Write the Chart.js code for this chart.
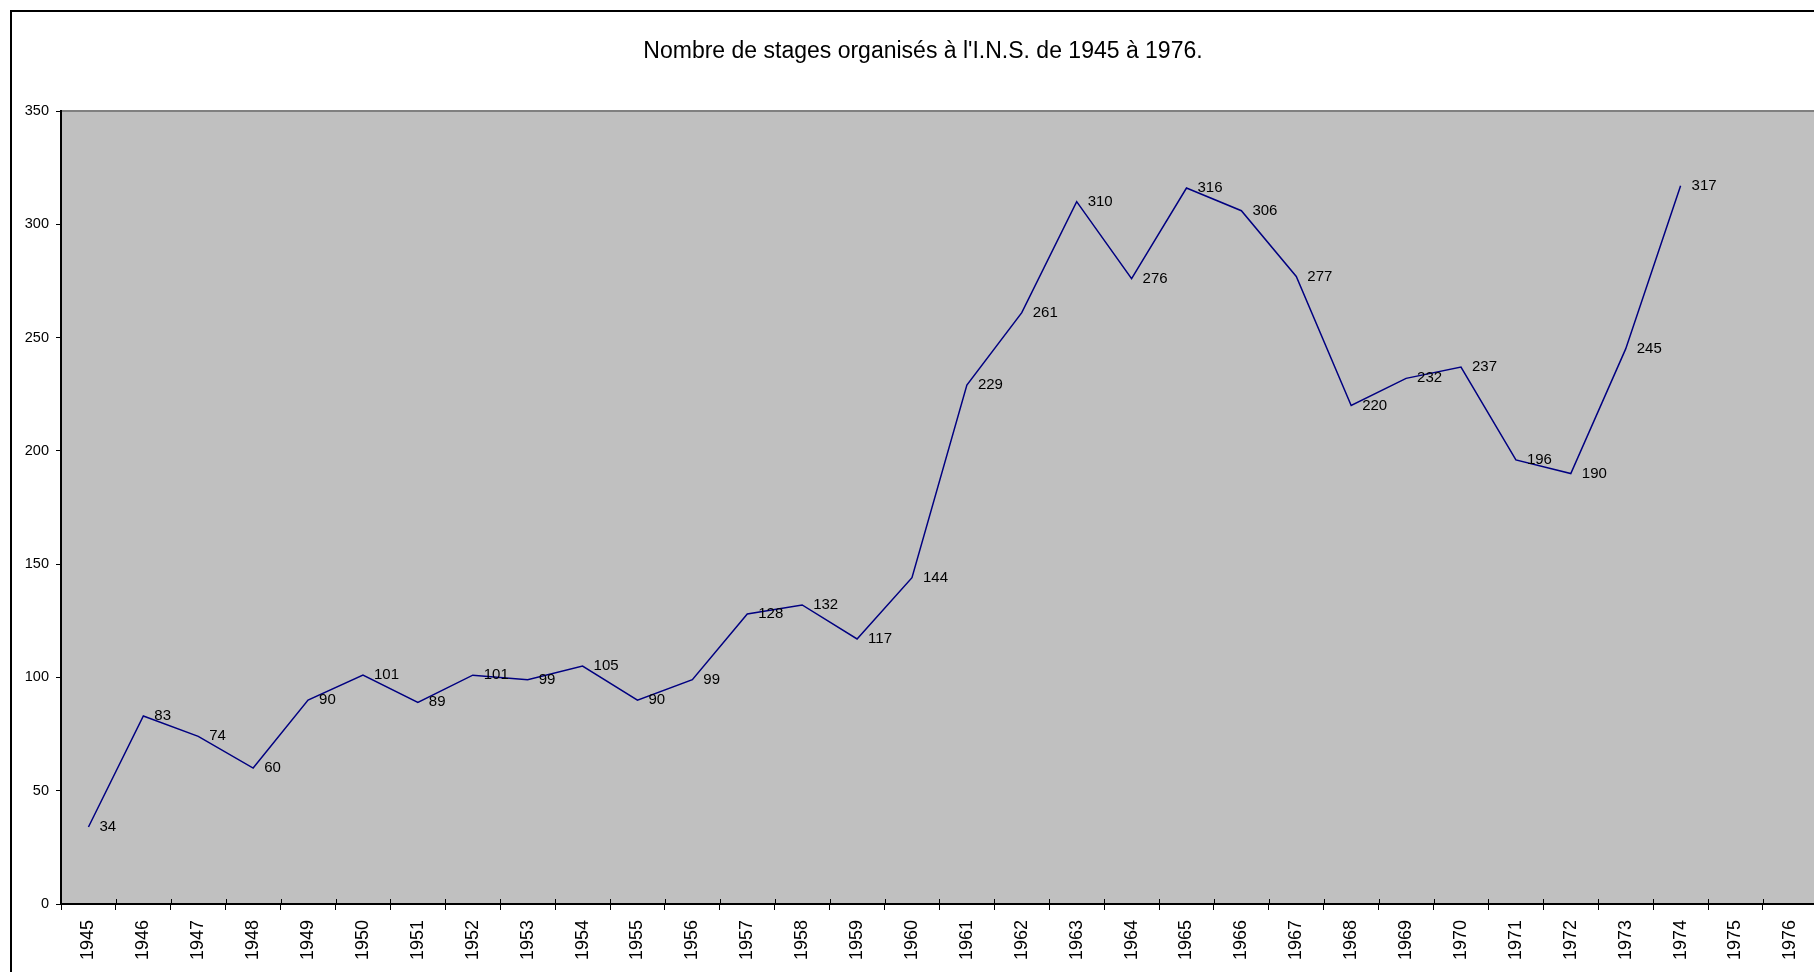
<!DOCTYPE html>
<html>
<head>
<meta charset="utf-8">
<script src="https://cdn.jsdelivr.net/npm/chart.js@4.4.1/dist/chart.umd.min.js"></script>
<style>
  html, body { margin: 0; padding: 0; overflow: hidden; background: #fff; width: 1814px; height: 972px; }
  #frame { position: absolute; left: 10px; top: 10px; width: 1900px; height: 1000px; border: 2px solid #000; box-sizing: border-box; }
  #chart { position: absolute; left: 0; top: 0; }
  #titre { position: absolute; left: 0; top: 36px; width: 1846px; text-align: center;
           font: 23px/28px 'Liberation Sans', Arial, sans-serif; color: #000; white-space: nowrap; }
</style>
</head>
<body>
<div id="frame"></div>
<canvas id="chart" width="1822" height="972"></canvas>
<div id="titre"></div>
<script>
// ---- données ----
const titre = "Nombre de stages organisés à l'I.N.S. de 1945 à 1976.";
const annees = ["1945","1946","1947","1948","1949","1950","1951","1952","1953","1954",
  "1955","1956","1957","1958","1959","1960","1961","1962","1963","1964",
  "1965","1966","1967","1968","1969","1970","1971","1972","1973","1974","1975","1976"];
const stages = [34, 83, 74, 60, 90, 101, 89, 101, 99, 105,
  90, 99, 128, 132, 117, 144, 229, 261, 310, 276,
  316, 306, 277, 220, 232, 237, 196, 190, 245, 317, null, null];
const yMin = 0, yMax = 350, yPas = 50;

document.getElementById("titre").textContent = titre;

// fond gris de la zone de traçage + bordure du haut
const fondPlugin = {
  id: "fond",
  beforeDraw(chart) {
    const { ctx, chartArea: a } = chart;
    ctx.save();
    ctx.fillStyle = "#c0c0c0";
    ctx.fillRect(a.left, a.top, a.right - a.left, a.bottom - a.top);
    ctx.strokeStyle = "#808080";
    ctx.lineWidth = 2;
    ctx.beginPath();
    ctx.moveTo(a.left, a.top);
    ctx.lineTo(a.right, a.top);
    ctx.lineTo(a.right, a.bottom);
    ctx.stroke();
    ctx.restore();
  },
  afterDraw(chart) {
    // petites graduations vers l'intérieur sur l'axe x (elles traversent l'axe)
    const { ctx, chartArea: a, scales } = chart;
    const x = scales.x;
    const w = x.getPixelForValue(1) - x.getPixelForValue(0);
    ctx.save();
    ctx.strokeStyle = "#000";
    ctx.lineWidth = 1;
    ctx.beginPath();
    for (let i = 0; i <= annees.length; i++) {
      const px = Math.round(x.getPixelForValue(0) - w / 2 + i * w) + 0.5;
      ctx.moveTo(px, a.bottom - 5);
      ctx.lineTo(px, a.bottom);
    }
    ctx.stroke();
    ctx.restore();
  }
};

// étiquettes de données à droite des points
const etiquettesPlugin = {
  id: "etiquettes",
  afterDatasetsDraw(chart) {
    const { ctx } = chart;
    const meta = chart.getDatasetMeta(0);
    ctx.save();
    ctx.font = "15px 'Liberation Sans', Arial, sans-serif";
    ctx.fillStyle = "#000";
    ctx.textAlign = "left";
    ctx.textBaseline = "middle";
    meta.data.forEach((pt, i) => {
      const v = stages[i];
      if (v === null || v === undefined) return;
      ctx.fillText(String(v), pt.x + 11, pt.y);
    });
    ctx.restore();
  }
};

const chart = new Chart(document.getElementById("chart").getContext("2d"), {
  type: "line",
  data: {
    labels: annees,
    datasets: [{
      data: stages,
      borderColor: "#000080",
      borderWidth: 1.5,
      pointRadius: 0,
      tension: 0,
      fill: false,
      spanGaps: false
    }]
  },
  plugins: [fondPlugin, etiquettesPlugin],
  options: {
    responsive: false,
    animation: false,
    devicePixelRatio: 1,
    layout: { padding: { left: 0, right: 0, top: 111, bottom: 0 } },
    plugins: {
      legend: { display: false },
      tooltip: { enabled: false },
      title: { display: false }
    },
    scales: {
      x: {
        type: "category",
        offset: true,
        grid: { offset: true, drawOnChartArea: false, color: "#000", tickLength: 6, tickWidth: 1 },
        border: { color: "#000", width: 2 },
        ticks: {
          color: "#000",
          autoSkip: false,
          minRotation: 90,
          maxRotation: 90,
          padding: 10,
          font: { family: "'Liberation Sans', Arial, sans-serif", size: 18 }
        },
        afterFit(scale) { scale.height = 68; }
      },
      y: {
        min: yMin,
        max: yMax,
        grid: { drawOnChartArea: false, color: "#000", tickLength: 5 },
        border: { color: "#000", width: 2 },
        ticks: {
          stepSize: yPas,
          color: "#000",
          padding: 7,
          font: { family: "'Liberation Sans', Arial, sans-serif", size: 14.5 }
        },
        afterFit(scale) { scale.width = 61; }
      }
    }
  }
});
</script>
</body>
</html>
